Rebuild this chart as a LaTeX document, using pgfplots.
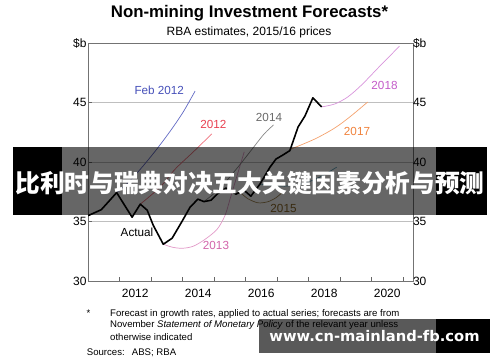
\documentclass[border=0pt]{standalone}
\usepackage{fontspec}
\setmainfont{Liberation Sans}
\newfontfamily\cjk{Noto Sans CJK SC}
\newfontfamily\wmfont{DejaVu Sans}
\usepackage{pgfplots}
\pgfplotsset{compat=1.18}
\definecolor{cblue}{RGB}{70,80,185}
\definecolor{cred}{RGB}{232,64,80}
\definecolor{cgray}{RGB}{105,105,105}
\definecolor{cpink}{RGB}{210,100,170}
\definecolor{cbrown}{RGB}{140,105,40}
\definecolor{cteal}{RGB}{60,140,170}
\definecolor{corange}{RGB}{240,130,60}
\definecolor{cviolet}{RGB}{195,90,200}
\begin{document}
\begin{tikzpicture}[x=1pt,y=1pt]
\path[use as bounding box] (0,0) rectangle (500,362);
\begin{axis}[
  at={(88pt,81pt)}, anchor=south west,
  width=325pt, height=238pt, scale only axis,
  xmin=2011, xmax=2021.32, ymin=30, ymax=50,
  axis line style={draw=black!55, line width=0.7pt},
  xtick={2012,2013,2014,2015,2016,2017,2018,2019,2020,2021}, xticklabels={},
  extra x ticks={2012.5,2014.5,2016.5,2018.5,2020.5},
  extra x tick labels={2012,2014,2016,2018,2020},
  extra x tick style={major tick length=0pt},
  xtick pos=left, ytick pos=left,
  ytick={30,35,40,45,50}, yticklabels={30,35,40,45,\raisebox{-4pt}{\$b}},
  ymajorgrids, grid style={draw=black!25, line width=0.6pt},
  tick align=inside, major tick length=4pt,
  tick style={draw=black!60, line width=0.7pt},
  tick label style={font=\fontsize{12}{12}\selectfont},
  xticklabel style={yshift=-5pt},
  yticklabel style={xshift=2pt},
  /pgf/number format/assume math mode=true,
]
% forecasts
\addplot[cblue!85, line width=0.7pt, smooth] coordinates {(2011.91,37.43) (2012.28,38.29) (2012.66,39.39) (2013.13,40.90) (2013.61,42.59) (2014.02,44.19) (2014.40,45.96)};
\addplot[cred!75, line width=0.7pt, smooth] coordinates {(2012.66,36.46) (2013.29,37.89) (2013.77,39.41) (2014.34,40.84) (2014.93,42.36)};
\addplot[cpink!65, line width=0.7pt, smooth] coordinates {(2013.39,33.09) (2013.68,32.84) (2013.99,32.75) (2014.34,32.92) (2014.72,33.51) (2015.10,34.35) (2015.35,35.5) (2015.51,36.88) (2015.70,38.56) (2015.96,40.85)};
\addplot[cgray!80, line width=0.7pt, smooth] coordinates {(2014.68,36.67) (2015.19,37.80) (2015.76,39.57) (2016.21,41.08) (2016.59,42.35) (2016.89,43.11)};
\addplot[cbrown!80, line width=0.7pt, smooth] coordinates {(2015.83,37.45) (2016.08,36.91) (2016.40,36.57) (2016.71,36.66) (2016.97,37.0) (2017.16,37.42)};
\addplot[cteal!80, line width=0.7pt, smooth] coordinates {(2016.46,38.14) (2017.25,37.97) (2017.88,38.23) (2018.36,38.73) (2018.90,39.57)};
\addplot[corange!75, line width=0.7pt, smooth] coordinates {(2017.41,41.05) (2018.20,41.93) (2018.83,42.85) (2019.31,43.78) (2019.88,45.04)};
\addplot[cviolet!65, line width=0.7pt, smooth] coordinates {(2018.42,44.63) (2018.84,44.88) (2019.25,45.47) (2019.69,46.48) (2020.26,48.04) (2020.89,49.73)};
% actual
\addplot[black, line width=1.6pt, line join=round] coordinates {(2011.0,35.49) (2011.42,35.99) (2011.64,36.63) (2011.91,37.43) (2012.40,35.36) (2012.66,36.46) (2012.88,35.95) (2013.07,34.69) (2013.39,33.09) (2013.67,33.59) (2013.99,35.03) (2014.24,36.20) (2014.49,36.88) (2014.68,36.67) (2014.91,36.79) (2015.10,37.30) (2015.38,37.81) (2015.70,37.30) (2015.95,37.64) (2016.17,37.13) (2016.46,38.14) (2016.78,39.57) (2016.97,40.25) (2017.19,40.59) (2017.41,40.96) (2017.67,42.94) (2017.89,43.87) (2018.14,45.39) (2018.42,44.63)};
\end{axis}
\begin{axis}[
  at={(88pt,81pt)}, anchor=south west,
  width=325pt, height=238pt, scale only axis,
  xmin=2011, xmax=2021.32, ymin=30, ymax=50,
  hide x axis, axis y line*=right, axis line style={draw=none},
  ytick={30,35,40,45,50}, yticklabels={30,35,40,45,\raisebox{-4pt}{\$b}},
  major tick length=0pt,
  tick label style={font=\fontsize{12}{12}\selectfont},
  yticklabel style={xshift=-3.5pt},
]
\addplot[draw=none] coordinates {(2012,40)};
\end{axis}
% titles
\node[anchor=base, font=\bfseries\fontsize{16.8}{18}\selectfont, inner sep=0] at (249.5,344) {Non-mining Investment Forecasts*};
\node[anchor=base, font=\fontsize{12}{14}\selectfont, inner sep=0] at (249,326.3) {RBA estimates, 2015/16 prices};
% series labels
\begin{scope}[every node/.style={anchor=base, inner sep=0, font=\fontsize{11.7}{12}\selectfont}]
\node[text=cblue] at (159.3,267.8) {Feb 2012};
\node[text=cred] at (213.3,233.5) {2012};
\node[text=cgray] at (269,240.5) {2014};
\node[text=cviolet] at (384.5,272.8) {2018};
\node[text=corange] at (357,226.8) {2017};
\node[text=cbrown] at (283.5,149.8) {2015};
\node[text=cpink] at (216,112.8) {2013};
\node[text=black] at (137,125.1) {Actual};
\end{scope}
% footnotes
\begin{scope}[every node/.style={anchor=base west, inner sep=0, font=\fontsize{9.6}{11}\selectfont}]
\node at (86.5,45.2) {*};
\node at (110,45.2) {Forecast in growth rates, applied to actual series; forecasts are from};
\node at (110,34.2) {November \textit{Statement of Monetary Policy} of the relevant year unless};
\node at (110,21.8) {otherwise indicated};
\node at (86.7,6.8) {Sources:};
\node at (131.7,6.8) {ABS; RBA};
\end{scope}
% banner overlay
\fill[black] (13,147) rectangle (62,215);
\fill[black] (436,147) rectangle (487,215);
\fill[black,opacity=0.6] (62,147) rectangle (436,215);
\node[text=white, font=\cjk\bfseries\fontsize{24.7}{26}\selectfont, inner sep=0] at (250,179) {比利时与瑞典对决五大关键因素分析与预测};
% watermark
\fill[black,opacity=0.65] (259,9) rectangle (436,43);
\fill[black] (436,9) rectangle (490,43);
\node[text=white, font=\wmfont\bfseries\fontsize{14.7}{16}\selectfont, inner sep=0] at (374.5,26) {www.cn-mainland-fb.com};
\end{tikzpicture}
\end{document}
